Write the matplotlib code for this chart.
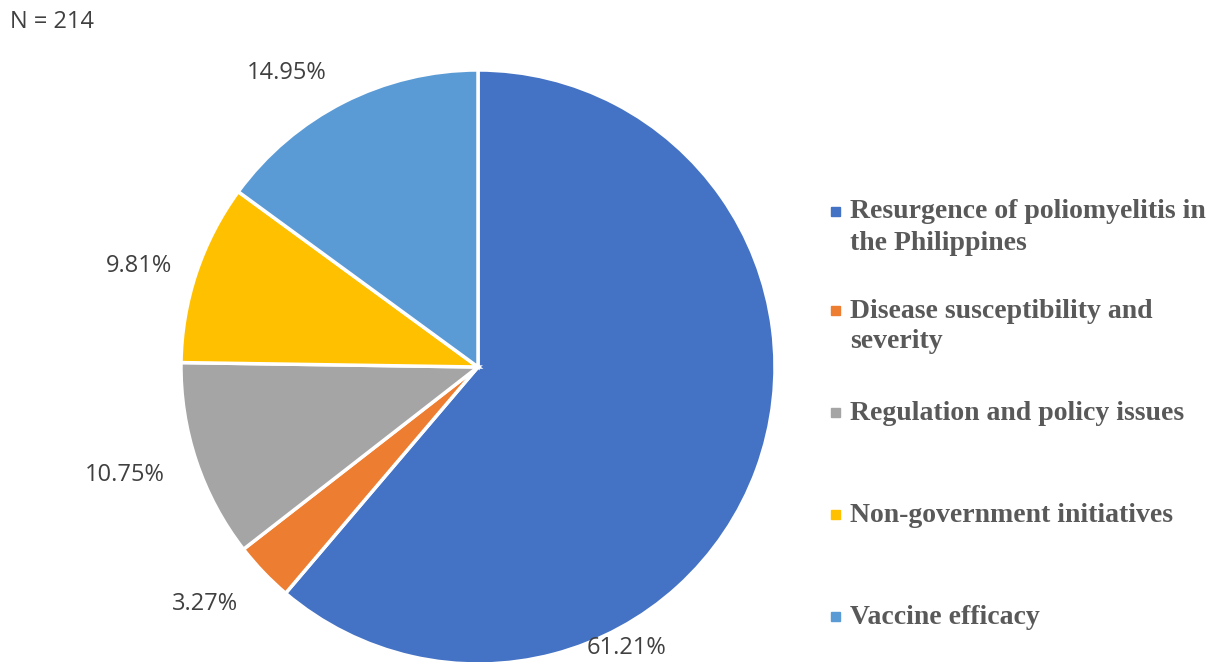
import matplotlib.pyplot as plt

# Data
categories = ['Resurgence of poliomyelitis in\nthe Philippines',
              'Disease susceptibility and\nseverity',
              'Regulation and policy issues',
              'Non-government initiatives',
              'Vaccine efficacy']
shares = [61.21, 3.27, 10.75, 9.81, 14.95]
colors = ['#4472C4', '#ED7D31', '#A5A5A5', '#FFC000', '#5B9BD5']

# where the percentage labels sit (pixel coords, origin bottom-left)
label_pos = [(626, 14), (205, 58), (125, 187), (139, 396), (287, 589)]

W, H = 1219, 662
fig = plt.figure(figsize=(W / 100, H / 100), dpi=100)
ax = fig.add_axes([0, 0, 1, 1])

wedges, _ = ax.pie(shares, colors=colors, startangle=90, counterclock=False,
                   center=(478, H - 367), radius=297,
                   wedgeprops=dict(edgecolor='white', linewidth=2.5))
ax.set_xlim(0, W)
ax.set_ylim(0, H)
ax.set_aspect('equal')
ax.axis('off')

for v, (x, y) in zip(shares, label_pos):
    ax.text(x, y, f'{v:.2f}%', ha='center', va='center', fontsize=17,
            family='Open Sans', color='#404040')

ax.text(10, H - 22, 'N = 214', ha='left', va='center', fontsize=17,
        family='Open Sans', color='#404040')

# legend drawn by hand so wrapped labels keep even spacing
leg_y = [212, 311, 413, 515, 617]
for cat, c, y in zip(categories, colors, leg_y):
    ax.add_patch(plt.Rectangle((831, H - y - 4), 9, 9, color=c))
    for i, line in enumerate(cat.split('\n')):
        ax.text(850, H - y - 31 * i, line, ha='left', va='center',
                fontsize=20, family='Liberation Serif', fontweight='bold',
                color='#595959')

fig.savefig('out.png', dpi=100)
